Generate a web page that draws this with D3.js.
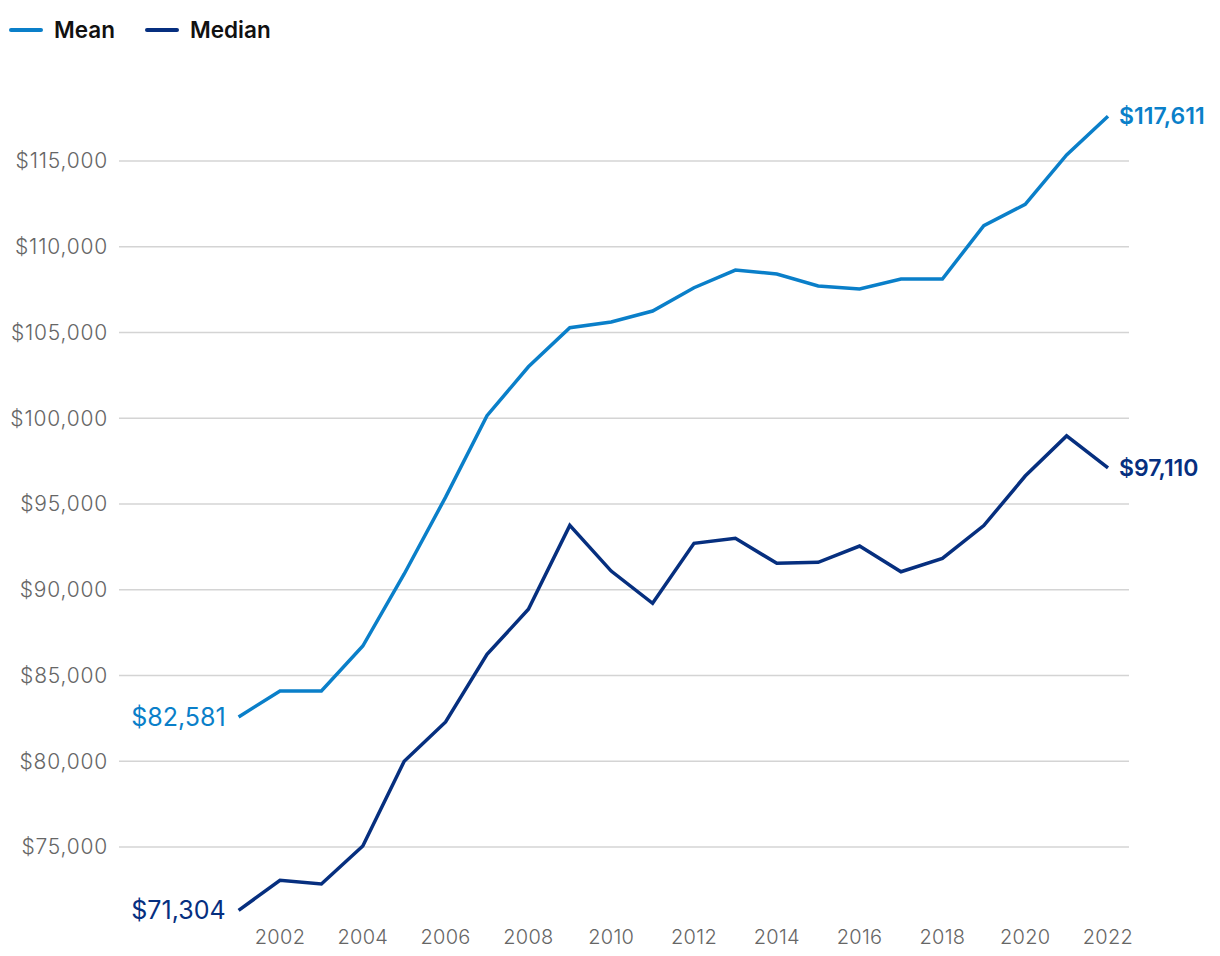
<!DOCTYPE html>
<html>
<head>
<meta charset="utf-8">
<script src="https://cdn.jsdelivr.net/npm/d3@7"></script>
<style>
  body { margin: 0; background: #fff; font-family: Inter, "Open Sans", sans-serif; }
</style>
</head>
<body>
<div id="chart"></div>
<script>
const width = 1220;
const height = 956;

// data
const years = d3.range(2001, 2023);
const meanValues = [82581, 84100, 84100, 86720, 90920, 95400, 100150, 103000, 105280, 105610,
  106250, 107610, 108640, 108410, 107710, 107540, 108120, 108120, 111230, 112470, 115350, 117611];
const medianValues = [71304, 73060, 72840, 75060, 80000, 82290, 86230, 88860, 93755, 91090,
  89210, 92710, 93000, 91540, 91600, 92550, 91050, 91830, 93740, 96630, 98970, 97110];
const yTicks = [75000, 80000, 85000, 90000, 95000, 100000, 105000, 110000, 115000];
const xTicks = [2002, 2004, 2006, 2008, 2010, 2012, 2014, 2016, 2018, 2020, 2022];

const series = [
  { name: "Mean", values: meanValues, color: "#0a7fc9" },
  { name: "Median", values: medianValues, color: "#062f7f" }
];

const svg = d3.select("#chart").append("svg")
    .attr("width", width)
    .attr("height", height);

const x = d3.scaleLinear().domain([2001, 2022]).range([238.6, 1108]);
const y = d3.scaleLinear().domain([75000, 115000]).range([847, 161]);

// gridlines
svg.append("g")
  .selectAll("line")
  .data(yTicks)
  .enter().append("line")
    .attr("x1", 119)
    .attr("x2", 1129)
    .attr("y1", d => y(d))
    .attr("y2", d => y(d))
    .attr("stroke", "#d4d4d4")
    .attr("stroke-width", 1.5);

// y axis labels
const fmt = d3.format(",");
svg.append("g")
  .selectAll("text")
  .data(yTicks)
  .enter().append("text")
    .attr("x", 108)
    .attr("y", d => y(d))
    .attr("dy", "0.35em")
    .attr("text-anchor", "end")
    .attr("fill", "#666")
    .attr("font-size", 21)
    .attr("font-weight", 300)
    .attr("letter-spacing", 0.8)
    .text(d => "$" + fmt(d));

// x axis labels
svg.append("g")
  .selectAll("text")
  .data(xTicks)
  .enter().append("text")
    .attr("x", d => x(d))
    .attr("y", 944)
    .attr("text-anchor", "middle")
    .attr("fill", "#666")
    .attr("font-size", 20)
    .attr("font-weight", 300)
    .attr("letter-spacing", 0.3)
    .text(d => d);

const line = d3.line()
    .x((d, i) => x(years[i]))
    .y(d => y(d));

svg.selectAll("path.series")
  .data(series)
  .enter().append("path")
    .attr("class", "series")
    .attr("d", d => line(d.values))
    .attr("fill", "none")
    .attr("stroke", d => d.color)
    .attr("stroke-width", 3.5)
    .attr("stroke-linejoin", "miter");

// start and end labels
series.forEach(s => {
  svg.append("text")
    .attr("x", x(years[0]) - 13)
    .attr("y", y(s.values[0]))
    .attr("dy", "0.35em")
    .attr("text-anchor", "end")
    .attr("fill", s.color)
    .attr("font-size", 25)
    .text("$" + fmt(s.values[0]));

  const last = s.values[s.values.length - 1];
  svg.append("text")
    .attr("x", x(years[years.length - 1]) + 11)
    .attr("y", y(last))
    .attr("dy", "0.35em")
    .attr("fill", s.color)
    .attr("font-size", 23)
    .attr("font-weight", 600)
    .attr("letter-spacing", 0)
    .text("$" + fmt(last));
});

// legend
const legend = svg.append("g");
const legendX = [11, 147];
series.forEach((s, i) => {
  legend.append("line")
    .attr("x1", legendX[i])
    .attr("x2", legendX[i] + 30)
    .attr("y1", 30)
    .attr("y2", 30)
    .attr("stroke", s.color)
    .attr("stroke-width", 4)
    .attr("stroke-linecap", "round");
  legend.append("text")
    .attr("x", legendX[i] + 43)
    .attr("y", 30)
    .attr("dy", "0.36em")
    .attr("fill", "#111")
    .attr("font-size", 22.5)
    .attr("font-weight", 600)
    .text(s.name);
});
</script>
</body>
</html>
